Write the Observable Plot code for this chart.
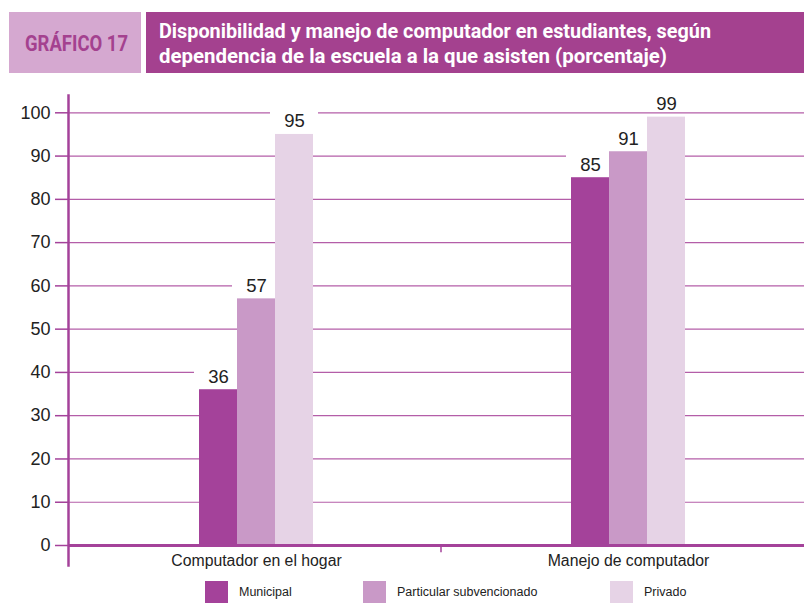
<!DOCTYPE html>
<html><head><meta charset="utf-8">
<script src="https://cdn.jsdelivr.net/npm/d3@7"></script>
<script src="https://cdn.jsdelivr.net/npm/@observablehq/plot@0.6"></script>
<style>
body{margin:0;background:#fff;font-family:"Liberation Sans",Arial,sans-serif;}
#wrap{width:804px;height:605px;position:relative;overflow:hidden;background:#fff}
#head{display:block}
#head text{font-family:Roboto,"Liberation Sans",sans-serif;font-weight:bold}
#chart svg{display:block;overflow:visible}
#legend{position:relative;height:40px}
.sw{position:absolute;top:16px;width:23px;height:22px}
.lt{position:absolute;top:16px;height:22px;line-height:22px;font-size:12.5px;color:#222;white-space:nowrap}
</style></head><body><div id="wrap">
<svg id="head" width="804" height="85">
  <rect x="9" y="12" width="132" height="61" fill="#d5a8d0"/>
  <rect x="146" y="12" width="658" height="61" fill="#a4418f"/>
  <text x="25" y="51" fill="#a4418f" style="font-size:21.5px" textLength="103" lengthAdjust="spacingAndGlyphs">GRÁFICO 17</text>
  <text x="159" y="38" fill="#fff" style="font-size:20px" textLength="552" lengthAdjust="spacingAndGlyphs">Disponibilidad y manejo de computador en estudiantes, según</text>
  <text x="159" y="63" fill="#fff" style="font-size:20px" textLength="508" lengthAdjust="spacingAndGlyphs">dependencia de la escuela a la que asisten (porcentaje)</text>
</svg>
<div id="chart"></div>
<div id="legend"></div>
</div>
<script>
// ---- data ----
const categories = ["Computador en el hogar", "Manejo de computador"];
const series = ["Municipal", "Particular subvencionado", "Privado"];
const municipal = [36, 85];
const particular = [57, 91];
const privado = [95, 99];
const yTicks = [0, 10, 20, 30, 40, 50, 60, 70, 80, 90, 100];

// ---- style / layout ----
const colors = ["#a4429a", "#c999c7", "#e6d3e6"];
const purple = "#a4429a";
const gridColor = "#b45ea8";
const B = 372;   // band width per category
const W = 38;    // bar width
const LBL = 48;  // label box width
const legendX = [205, 363, 610];

const values = [municipal, particular, privado];
const data = [];
categories.forEach((c, i) => series.forEach((s, j) => data.push({category: c, series: s, j, value: values[j][i]})));

const perSeries = (fn) => series.map((s, j) => fn(data.filter(d => d.j === j), j));

const chart = Plot.plot({
  width: 804,
  height: 480,
  marginLeft: 68,
  marginRight: 0,
  marginTop: 10,
  marginBottom: 0,
  x: {type: "band", domain: categories, range: [69.5, 69.5 + 2 * B], padding: 0, axis: null},
  y: {domain: [0, 104], range: [460, 10], axis: null},
  style: {fontFamily: "Liberation Sans, Arial, sans-serif", color: "#222", background: "transparent", fontSize: "18px"},
  marks: [
    Plot.ruleY(yTicks.filter(t => t > 0), {stroke: gridColor, strokeWidth: 1.2}),
    Plot.axisY({ticks: yTicks, tickSize: 13, tickPadding: 5, stroke: purple, strokeWidth: 1.5, fill: "#222", fontSize: 18, label: null, tickFormat: d => String(d)}),
    // white boxes behind value labels
    ...perSeries((rows, j) => Plot.barY(rows, {
      x: "category", y1: d => d.value + 1.5, y2: d => d.value + 5.3,
      fill: "white", insetLeft: (B - LBL) / 2, insetRight: (B - LBL) / 2, dx: (j - 1) * W
    })),
    // bars
    ...perSeries((rows, j) => Plot.barY(rows, {
      x: "category", y: "value", fill: colors[j],
      insetLeft: (B - W) / 2, insetRight: (B - W) / 2, dx: (j - 1) * W
    })),
    // value labels
    ...perSeries((rows, j) => Plot.text(rows, {
      x: "category", y: "value", text: d => String(d.value),
      dx: (j - 1) * W, dy: -13, fontSize: 18.5, fill: "#222"
    })),
    Plot.ruleY([0], {stroke: purple, strokeWidth: 3}),
    Plot.frame({anchor: "left", stroke: purple, strokeWidth: 2.5}),
    Plot.ruleX(categories.slice(1), {x: d => d, dx: -B / 2 - 1.5, y1: 0, y2: -1.7, stroke: purple, strokeWidth: 1.5}),
    Plot.text(categories, {x: d => d, y: 0, dy: 15, text: d => d, fontSize: 15.8, fill: "#222"})
  ]
});
document.getElementById("chart").appendChild(chart);

const legend = document.getElementById("legend");
series.forEach((s, j) => {
  const sw = document.createElement("div");
  sw.className = "sw";
  sw.style.left = legendX[j] + "px";
  sw.style.background = colors[j];
  legend.appendChild(sw);
  const t = document.createElement("div");
  t.className = "lt";
  t.style.left = (legendX[j] + 34) + "px";
  t.textContent = s;
  legend.appendChild(t);
});
</script>
</body></html>
